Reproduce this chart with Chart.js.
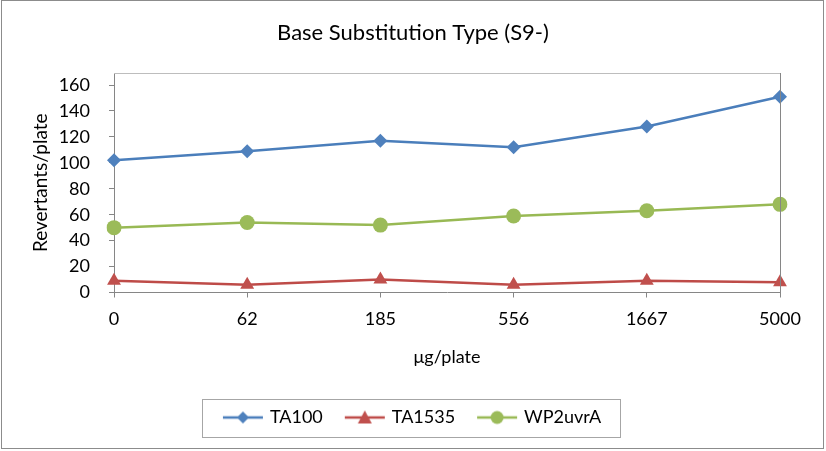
<!DOCTYPE html>
<html>
<head>
<meta charset="utf-8">
<script src="https://cdn.jsdelivr.net/npm/chart.js@4.4.1/dist/chart.umd.min.js"></script>
<style>
  html, body { margin: 0; padding: 0; background: #fff; }
  canvas { display: block; }
</style>
</head>
<body>
<canvas id="grafico" width="826" height="451"></canvas>
<script>
// ======== Dados ========
const doses = ["0", "62", "185", "556", "1667", "5000"];
const ta100 = [102, 109, 117, 112, 128, 151];
const ta1535 = [9, 6, 10, 6, 9, 8];
const wp2uvrA = [50, 54, 52, 59, 63, 68];
const yTicks = [0, 20, 40, 60, 80, 100, 120, 140, 160];

const FONTE = "Lato, 'Noto Sans', sans-serif";
const CINZA = "#868686";

// ícone da legenda: linha + marcador
function iconeLegenda(corLinha, corMarca, estilo) {
  const c = document.createElement("canvas");
  c.width = 42;
  c.height = 18;
  const ctx = c.getContext("2d");
  ctx.strokeStyle = corLinha;
  ctx.lineWidth = 2.5;
  ctx.beginPath();
  ctx.moveTo(1, 9);
  ctx.lineTo(41, 9);
  ctx.stroke();
  ctx.fillStyle = corMarca;
  ctx.beginPath();
  if (estilo === "rectRot") {
    ctx.moveTo(21, 3); ctx.lineTo(27, 9); ctx.lineTo(21, 15); ctx.lineTo(15, 9);
  } else if (estilo === "triangle") {
    ctx.moveTo(21, 2); ctx.lineTo(28, 15); ctx.lineTo(14, 15);
  } else {
    ctx.arc(21, 9, 6.5, 0, Math.PI * 2);
  }
  ctx.closePath();
  ctx.fill();
  return c;
}

const series = [
  { label: "TA100", data: ta100, linha: "#4A7EBB", marca: "#4F81BD", estilo: "rectRot", raio: 7 },
  { label: "TA1535", data: ta1535, linha: "#BE4B48", marca: "#C0504D", estilo: "triangle", raio: 8 },
  { label: "WP2uvrA", data: wp2uvrA, linha: "#98B954", marca: "#9BBB59", estilo: "circle", raio: 7.5 },
];

// título e legenda centralizados na largura total
const centralizar = {
  id: "centralizar",
  afterLayout(chart) {
    [chart.titleBlock, chart.legend].forEach((b) => {
      if (!b) return;
      b.left = 0;
      b.right = chart.width;
      b.width = chart.width;
    });
  },
};

// molduras (área do gráfico, caixa da legenda, borda externa)
const molduras = {
  id: "molduras",
  afterDraw(chart) {
    const ctx = chart.ctx;
    const a = chart.chartArea;
    ctx.save();
    ctx.lineWidth = 1;
    ctx.strokeStyle = "#BDBDBD";
    ctx.beginPath();
    ctx.moveTo(a.left, Math.round(a.top) + 0.5);
    ctx.lineTo(a.right, Math.round(a.top) + 0.5);
    ctx.stroke();
    ctx.strokeStyle = CINZA;
    ctx.beginPath();
    ctx.moveTo(Math.round(a.right) + 0.5, a.top);
    ctx.lineTo(Math.round(a.right) + 0.5, a.bottom);
    ctx.stroke();

    const caixas = chart.legend.legendHitBoxes;
    if (caixas && caixas.length) {
      const esq = Math.min(...caixas.map((b) => b.left));
      const dir = Math.max(...caixas.map((b) => b.left + b.width));
      const meio = caixas[0].top + caixas[0].height / 2;
      ctx.strokeStyle = "#A6A6A6";
      ctx.strokeRect(Math.round(esq - 23) + 0.5, Math.round(meio - 19) + 0.5, Math.round(dir - esq + 42), 38);
    }

    ctx.strokeStyle = "#8C8C8C";
    ctx.strokeRect(1.5, 0.5, 822, 448);
    ctx.restore();
  },
};

const ctx = document.getElementById("grafico").getContext("2d");
new Chart(ctx, {
  type: "line",
  data: {
    labels: doses,
    datasets: series.map((s) => ({
      label: s.label,
      data: s.data,
      borderColor: s.linha,
      backgroundColor: s.marca,
      borderWidth: 2.5,
      pointStyle: s.estilo,
      pointRadius: s.raio,
      pointBackgroundColor: s.marca,
      pointBorderColor: s.marca,
      pointBorderWidth: 0,
      tension: 0,
      icone: iconeLegenda(s.linha, s.marca, s.estilo),
    })),
  },
  options: {
    responsive: false,
    animation: false,
    layout: { padding: { left: 12, right: 46, top: 0, bottom: 14.5 } },
    plugins: {
      title: {
        display: true,
        text: "Base Substitution Type (S9-)",
        color: "#000",
        font: { family: FONTE, size: 22, weight: "normal" },
        padding: { top: 20, bottom: 26.6 },
      },
      legend: {
        position: "bottom",
        labels: {
          color: "#000",
          font: { family: FONTE, size: 18 },
          usePointStyle: true,
          pointStyleWidth: 36,
          padding: 24,
          generateLabels(chart) {
            return chart.data.datasets.map((d, i) => ({
              text: d.label,
              pointStyle: d.icone,
              datasetIndex: i,
              fontColor: "#000",
              lineWidth: 0,
              strokeStyle: "transparent",
              fillStyle: "transparent",
            }));
          },
        },
      },
      tooltip: { enabled: false },
    },
    scales: {
      x: {
        offset: false,
        grid: { drawOnChartArea: false, drawTicks: true, tickLength: 5, color: CINZA },
        border: { color: CINZA, width: 1 },
        ticks: { color: "#000", font: { family: FONTE, size: 18 }, padding: 11, maxRotation: 0 },
        title: {
          display: true,
          text: "μg/plate",
          color: "#000",
          font: { family: FONTE, size: 18 },
          padding: { top: 0, bottom: 16.5 },
        },
        afterFit(scale) { scale.height = 92; },
      },
      y: {
        min: 0,
        max: 169.3,
        afterBuildTicks(scale) { scale.ticks = yTicks.map((v) => ({ value: v })); },
        grid: { drawOnChartArea: false, drawTicks: true, tickLength: 5, color: CINZA },
        border: { color: CINZA, width: 1 },
        ticks: { color: "#000", font: { family: FONTE, size: 18 }, padding: 19 },
        title: {
          display: true,
          text: "Revertants/plate",
          color: "#000",
          font: { family: FONTE, size: 19 },
          padding: { top: 17, bottom: 0 },
        },
        afterFit(scale) { scale.width = 102; },
      },
    },
  },
  plugins: [centralizar, molduras],
});
</script>
</body>
</html>
